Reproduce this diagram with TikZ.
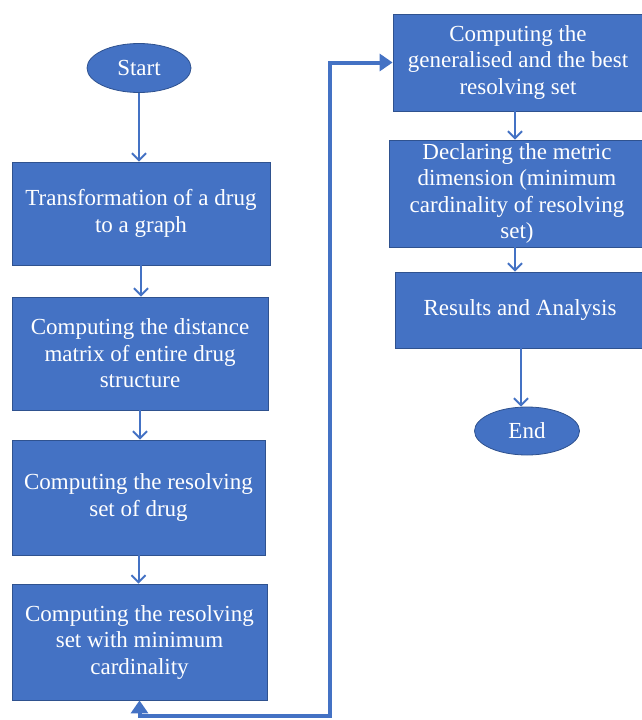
\documentclass[tikz,border=0pt]{standalone}
\usepackage{fontspec}
\setmainfont{Liberation Serif}
\newfontfamily\tnr{Liberation Serif}
\usetikzlibrary{arrows.meta,shapes.geometric}
\definecolor{fillb}{HTML}{4472C4}
\definecolor{edgeb}{HTML}{2F528F}
\begin{document}
\begin{tikzpicture}[x=1pt,y=-1pt,
 box/.style={rectangle,fill=fillb,draw=edgeb,line width=0.8pt,text=white,align=center,font=\tnr\fontsize{23}{26.5}\selectfont,inner sep=0pt},
 term/.style={ellipse,fill=fillb,draw=edgeb,line width=0.8pt,text=white,font=\tnr\fontsize{23}{26.5}\selectfont,inner sep=0pt},
 flow/.style={draw=fillb,line width=2pt,-{Straight Barb[length=7pt,width=14pt,line width=2pt]}},
 loopline/.style={draw=fillb,line width=4pt,{Triangle[length=13pt,width=17pt]}-{Triangle[length=13pt,width=17pt]}}]
\useasboundingbox (0,0) rectangle (641,720);
\node[term,minimum width=104pt,minimum height=49pt] (start) at (139,68) {Start};
\node[box,minimum width=258pt,minimum height=103pt] (b1) at (141,213.5) {Transformation of a drug\\to a graph};
\node[box,minimum width=256pt,minimum height=113pt] (b2) at (140,353.5) {Computing the distance\\matrix of entire drug\\structure};
\node[box,minimum width=253pt,minimum height=115pt] (b3) at (138.5,497.5) {Computing the resolving\\set of drug};
\node[box,minimum width=255pt,minimum height=116pt] (b4) at (139.5,642) {Computing the resolving\\set with minimum\\cardinality};
\node[box,minimum width=250pt,minimum height=97pt] (b5) at (518,62.5) {Computing the\\generalised and the best\\resolving set};
\node[box,minimum width=256pt,minimum height=107pt] (b6) at (517,193.5) {Declaring the metric\\dimension (minimum\\cardinality of resolving\\set)};
\node[box,minimum width=250pt,minimum height=76pt] (b7) at (520,310) {Results and Analysis};
\node[term,minimum width=105pt,minimum height=48pt] (end) at (527,431) {End};
\draw[flow] (start.south) -- (start.south |- b1.north);
\draw[flow] (b1.south) -- (b1.south |- b2.north);
\draw[flow] (b2.south) -- (b2.south |- b3.north);
\draw[flow] (b3.south) -- (b3.south |- b4.north);
\coordinate (c515) at (515,0);
\draw[flow] (c515 |- b5.south) -- (c515 |- b6.north);
\draw[flow] (c515 |- b6.south) -- (c515 |- b7.north);
\coordinate (c521) at (521,0);
\draw[flow] (c521 |- b7.south) -- (c521 |- end.north);
\coordinate (lp) at (330,716);
\draw[loopline] (b4.south) |- (lp) |- (b5.west);
\end{tikzpicture}
\end{document}
